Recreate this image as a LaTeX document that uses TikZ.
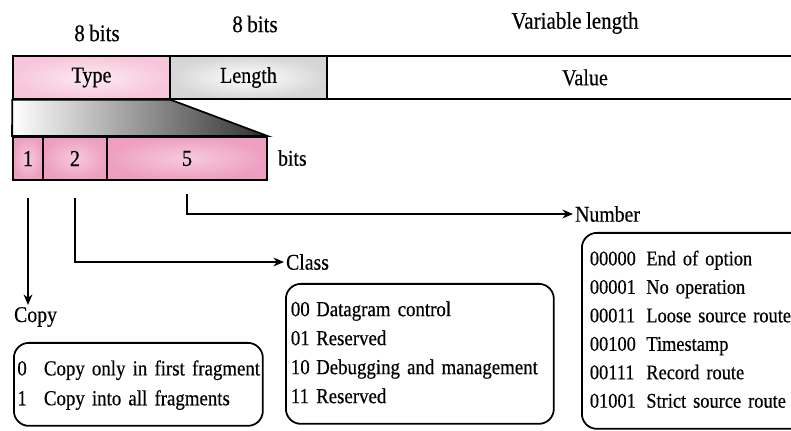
\documentclass[tikz,border=0pt]{standalone}
\usepackage{fontspec}
\setmainfont{Liberation Serif}[FakeStretch=0.88,FakeBold=0.4,WordSpace=0.85]
\usepackage{tikz}
\usetikzlibrary{arrows.meta}
\definecolor{TypePink}{HTML}{F7C6DA}
\definecolor{BitPink}{HTML}{EE9FC1}
\definecolor{LenGray}{HTML}{D6D6D6}
\definecolor{FadeGray}{HTML}{2E2E2E}

\begin{document}
\begin{tikzpicture}[x=0.02cm,y=-0.02cm,
  field/.style={draw,line width=1pt,minimum height=0.86cm,inner sep=0pt,font=\fontsize{13}{15}\selectfont},
  lbl/.style={inner sep=1pt,font=\fontsize{12.8}{15}\selectfont},
  title/.style={inner sep=1pt,font=\fontsize{13.6}{15}\selectfont},
  listbox/.style={draw,line width=1pt,rounded corners=0.3cm,align=left,anchor=north west,inner xsep=0.1cm,font=\fontsize{12.2}{16.5}\selectfont},
  conn/.style={line width=1pt,-{Stealth[length=6pt,width=5pt]}}]
\path[use as bounding box] (0,0) rectangle (791,431);
\fill[white] (0,0) rectangle (791,431);
% option header
\node[field,minimum width=3.14cm,inner color=TypePink!35,outer color=TypePink] (type) at (91.5,77.5) {Type};
\node[field,minimum width=3.14cm,inner color=white,outer color=LenGray] (len) at (248.5,77.5) {Length};
\node[field,minimum width=10.32cm,fill=white] (val) at (585,77.5) {Value};
% type byte
\node[field,minimum width=0.6cm,inner color=BitPink!55,outer color=BitPink] (f1) at (28,158.5) {1};
\node[field,minimum width=1.28cm,inner color=BitPink!55,outer color=BitPink] (f2) at (75,158.5) {2};
\node[field,minimum width=3.2cm,inner color=BitPink!55,outer color=BitPink] (f5) at (187,158.5) {5};
\shade[left color=white,middle color=gray!45,right color=FadeGray] (type.south west) -- (type.south east) -- (f5.north east) -- (f1.north west) -- cycle;
\draw[line width=1pt] (type.south west) -- (type.south east) -- (f5.north east) -- (f1.north west) -- cycle;
% sizes
\node[title] (tbits) at (97,33) {8 bits};
\node[title] (lbits) at (255,24) {8 bits};
\node[title] (vbits) at (575,23) {Variable length};
\node[lbl,anchor=west] (bits) at (276,158) {bits};
% subfields
\node[lbl,anchor=west] (copy) at (12,317) {Copy};
\node[lbl,anchor=west] (cls) at (284,262) {Class};
\node[lbl,anchor=west] (num) at (573,214) {Number};
\draw[conn,shorten <=0.34cm] (f1.south) -- (f1.south |- copy.north);
\draw[conn,shorten <=0.34cm] (f2.south) |- (cls.west);
\draw[conn,shorten <=0.26cm] (f5.south) |- (num.west);
% value lists
\node[listbox,minimum height=1.66cm,text width=4.84cm,inner xsep=0.07cm,font=\fontsize{12.2}{17}\selectfont] (copybox) at (13,342)
  {\begin{tabular}{@{}l@{\hspace{0.8em}}l@{}}
   0 & Copy only in first fragment\\
   1 & Copy into all fragments
   \end{tabular}};
\node[listbox,minimum height=2.8cm,text width=5.16cm] (clsbox) at (285,283)
  {\begin{tabular}{@{}l@{\hspace{0.3em}}l@{}}
   00 & Datagram control\\
   01 & Reserved\\
   10 & Debugging and management\\
   11 & Reserved
   \end{tabular}};
\node[listbox,minimum height=3.92cm,text width=4.6cm,inner xsep=0.16cm,font=\fontsize{11.9}{16.2}\selectfont] (numbox) at (581,232)
  {\begin{tabular}{@{}l@{\hspace{0.5em}}l@{}}
   00000 & End of option\\
   00001 & No operation\\
   00011 & Loose source route\\
   00100 & Timestamp\\
   00111 & Record route\\
   01001 & Strict source route
   \end{tabular}};
\end{tikzpicture}
\end{document}
